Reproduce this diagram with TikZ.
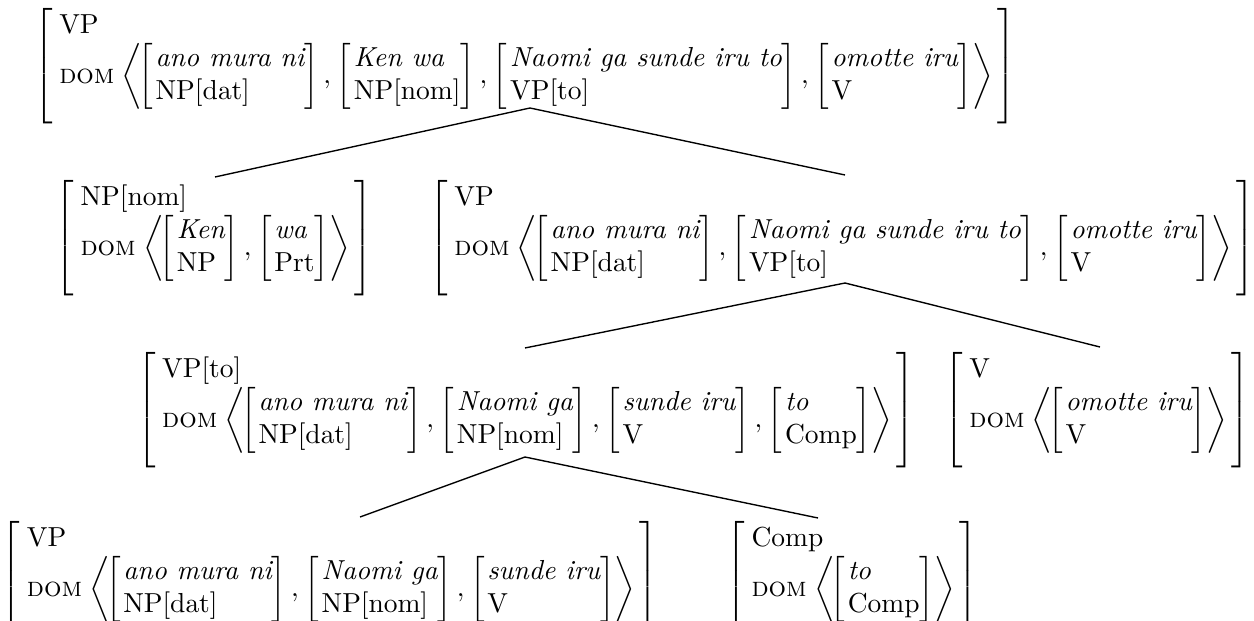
\documentclass[tikz,border=0pt]{standalone}
\usetikzlibrary{calc}

% attribute-value matrices
\newcommand{\nxt}{\mathord{,}\hspace{0.4pt}}
\newcommand{\sign}[2]{\left[\begin{array}{@{\hspace{2.5pt}}l@{\hspace{0pt}}}\mathrm{#1}\\
  \textsc{dom}\hspace{1pt}\left\langle\hspace{-1.5pt} #2 \right\rangle\rule[-13.5pt]{0pt}{1pt}\end{array}\right]}
\newcommand{\dtr}[2]{\left[\begin{array}{@{\hspace{1pt}}l@{\hspace{0pt}}}\textit{#1}\\ \mathrm{#2}\end{array}\right]}

\begin{document}
\begin{tikzpicture}[x=0.3636pt,y=-0.3636pt]
\tikzset{
  avm/.style={inner sep=0pt, outer sep=0pt, anchor=north},
  branch/.style={line width=0.5pt}
}
\useasboundingbox (0,0) rectangle (1254,621);

% signs
\node[avm] (top) at (525,8) {$\sign{VP}{\dtr{ano mura ni}{NP[dat]}\nxt\dtr{Ken wa}{NP[nom]}\nxt\dtr{Naomi ga sunde iru to}{VP[to]}\nxt\dtr{omotte iru}{V}}$};

\node[avm] (np) at (214,180) {$\sign{NP[nom]}{\dtr{Ken}{NP}\nxt\dtr{wa}{Prt}}$};
\node[avm] (vp2) at (842,180) {$\sign{VP}{\dtr{ano mura ni}{NP[dat]}\nxt\dtr{Naomi ga sunde iru to}{VP[to]}\nxt\dtr{omotte iru}{V}}$};

\node[avm] (vpto) at (526,352) {$\sign{VP[to]}{\dtr{ano mura ni}{NP[dat]}\nxt\dtr{Naomi ga}{NP[nom]}\nxt\dtr{sunde iru}{V}\nxt\dtr{to}{Comp}}$};
\node[avm] (v3) at (1097,352) {$\sign{V}{\dtr{omotte iru}{V}}$};

\node[avm] (vp4) at (330,521) {$\sign{VP}{\dtr{ano mura ni}{NP[dat]}\nxt\dtr{Naomi ga}{NP[nom]}\nxt\dtr{sunde iru}{V}}$};
\node[avm] (comp) at (852,521) {$\sign{Comp}{\dtr{to}{Comp}}$};

% branching points under the split element
\coordinate (a1) at (530,108);
\coordinate (a2) at (845,283);
\coordinate (a3) at (525,457);

\draw[branch] ($(np.north)+(1,-3)$) -- (a1) -- ($(vp2.north)+(3,-5)$);
\draw[branch] ($(vpto.north)+(-1,-4)$) -- (a2) -- ($(v3.north)+(3,-5)$);
\draw[branch] ($(vp4.north)+(30,-4)$) -- (a3) -- ($(comp.north)+(-34,-3)$);
\end{tikzpicture}
\end{document}
